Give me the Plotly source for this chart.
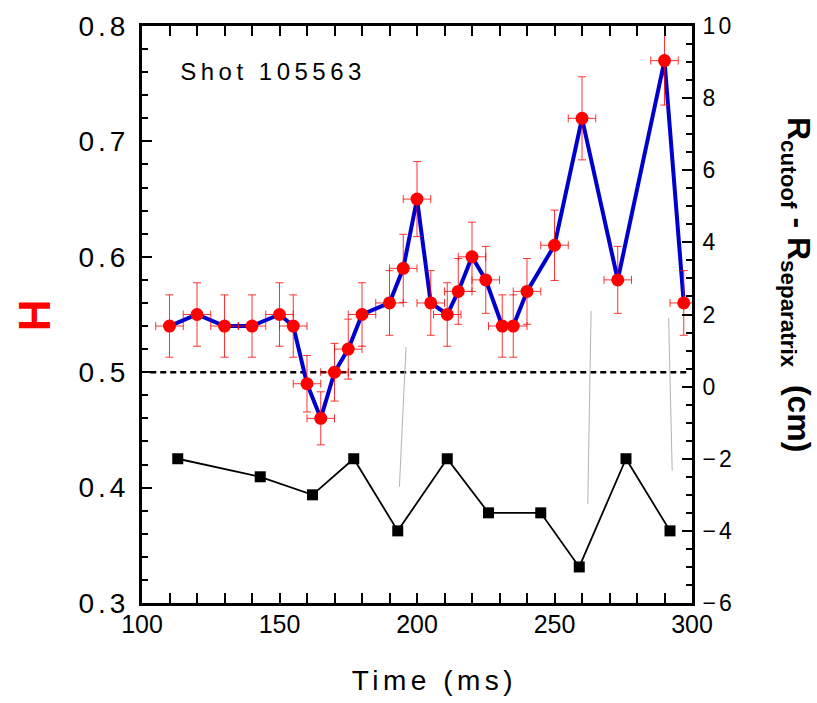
import plotly.graph_objects as go

# H data (left axis)
time_h = [110, 120, 130, 140, 150, 155, 160, 165, 170, 175, 180, 190, 195, 200,
          205, 211, 215, 220, 225, 231, 235, 240, 250, 260, 273, 290, 297]
h_vals = [0.54, 0.55, 0.54, 0.54, 0.55, 0.54, 0.49, 0.46, 0.50, 0.52, 0.55, 0.56,
          0.59, 0.65, 0.56, 0.55, 0.57, 0.60, 0.58, 0.54, 0.54, 0.57, 0.61, 0.72,
          0.58, 0.77, 0.56]
h_err = [0.027, 0.0275, 0.027, 0.027, 0.0275, 0.027, 0.0245, 0.023, 0.025, 0.026,
         0.0275, 0.028, 0.0295, 0.0325, 0.028, 0.0275, 0.0285, 0.030, 0.029, 0.027,
         0.027, 0.0285, 0.0305, 0.036, 0.029, 0.0385, 0.028]
t_err = [5] * len(time_h)

# R_cutoff - R_separatrix (right axis)
time_r = [113, 143, 162, 177, 193, 211, 226, 245, 259, 276, 292]
r_vals = [-2, -2.5, -3, -2, -4, -2, -3.5, -3.5, -5, -2, -4]

# thin gray segments (right axis units)
gray_t = [196, 193.6, None, 263.3, 262.1, None, 291.5, 292.8]
gray_r = [1.1, -2.78, None, 2.1, -3.26, None, 1.9, -2.33]

# H = 0.5 reference line
ref_t = [103, 298]
ref_h = [0.5, 0.5]

FONT = "Liberation Sans, Arial, sans-serif"

fig = go.Figure()

fig.add_trace(go.Scatter(x=ref_t, y=ref_h, mode="lines",
                         line=dict(color="black", width=2.5, dash="6px,4px"),
                         yaxis="y", showlegend=False, hoverinfo="skip"))
fig.add_trace(go.Scatter(x=time_h, y=h_vals, mode="lines",
                         line=dict(color="#0000cc", width=4),
                         yaxis="y", showlegend=False))
fig.add_trace(go.Scatter(x=time_h, y=h_vals, mode="markers",
                         marker=dict(color="#ff0000", size=13, line=dict(width=0)),
                         error_y=dict(type="data", array=h_err, visible=True,
                                      color="rgba(255,0,0,0.8)", thickness=1, width=4),
                         error_x=dict(type="data", array=t_err, visible=True,
                                      color="rgba(255,0,0,0.8)", thickness=1, width=4),
                         yaxis="y", showlegend=False))
fig.add_trace(go.Scatter(x=gray_t, y=gray_r, mode="lines",
                         line=dict(color="#b4b4b4", width=1),
                         yaxis="y2", showlegend=False, hoverinfo="skip"))
fig.add_trace(go.Scatter(x=time_r, y=r_vals, mode="lines+markers",
                         line=dict(color="black", width=1.8),
                         marker=dict(color="black", symbol="square", size=11),
                         yaxis="y2", showlegend=False))

axis_common = dict(showgrid=False, zeroline=False, showline=True, linecolor="black",
                   linewidth=3, ticks="inside", ticklen=10, tickwidth=2,
                   tickcolor="black")

fig.update_layout(
    width=817, height=703,
    margin=dict(l=142, r=125, t=26, b=100),
    paper_bgcolor="white", plot_bgcolor="white",
    font=dict(family=FONT, color="black"),
    xaxis=dict(range=[100, 300], dtick=50, tick0=100, mirror="allticks",
               minor=dict(dtick=10, ticks="inside", ticklen=6, tickwidth=2,
                          tickcolor="black"),
               ticklabelstandoff=-3,
               tickfont=dict(family=FONT, size=25, color="black"),
               **axis_common),
    yaxis=dict(range=[0.3, 0.8], dtick=0.1, tick0=0.3, tickformat=".1f",
               minor=dict(dtick=0.02, ticks="inside", ticklen=6, tickwidth=2,
                          tickcolor="black"),
               ticklabelstandoff=4,
               tickfont=dict(family=FONT, size=28, color="black"),
               **axis_common),
    yaxis2=dict(range=[-6, 10], dtick=2, tick0=-6, overlaying="y", side="right",
                minor=dict(dtick=0.5, ticks="inside", ticklen=6, tickwidth=2,
                           tickcolor="black"),
                ticklabelstandoff=3,
                tickfont=dict(family=FONT, size=23, color="black"),
                **axis_common),
    annotations=[
        dict(text="Shot 105563", xref="paper", yref="paper", x=0.239, y=0.922,
             xanchor="center", yanchor="middle", showarrow=False,
             font=dict(family=FONT, size=24, color="black")),
        dict(text="<b>H</b>", xref="paper", yref="paper", x=-0.196, y=0.499,
             xanchor="center", yanchor="middle", showarrow=False, textangle=-90,
             font=dict(family=FONT, size=44, color="#ff0000")),
        dict(text="Time (ms)", xref="paper", yref="paper", x=0.531, y=-0.135,
             xanchor="center", yanchor="middle", showarrow=False,
             font=dict(family=FONT, size=28, color="black")),
        dict(text="<b>R<sub>cutoof</sub> - R<sub>separatrix</sub>  (cm)</b>",
             xref="paper", yref="paper", x=1.19, y=0.552,
             xanchor="center", yanchor="middle", showarrow=False, textangle=90,
             font=dict(family=FONT, size=32, color="black")),
    ],
)

page_js = """
document.body.style.margin = '0';
document.body.style.padding = '0';
document.querySelectorAll('.annotation-text').forEach(function(t){
  var s = t.textContent;
  if (s.indexOf('Shot') === 0 || s.indexOf('Time') === 0) {
    t.style.letterSpacing = '4.5px';
  }
});
document.querySelectorAll('.ytick text').forEach(function(t){
  t.style.letterSpacing = '4px';
});
document.querySelectorAll('.y2tick text').forEach(function(t){
  t.style.letterSpacing = '3px';
});
"""

fig.write_html("out.html", post_script=page_js,
               config={"displayModeBar": False})
